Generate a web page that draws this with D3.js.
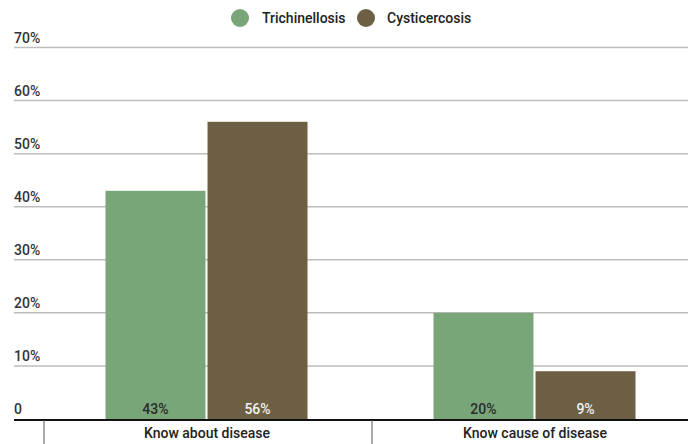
<!DOCTYPE html>
<html><head><meta charset="utf-8">
<script src="https://cdn.jsdelivr.net/npm/d3@7/dist/d3.min.js"></script>
<style>body{margin:0;background:#fff}svg{display:block;font-family:Roboto,"Noto Sans",sans-serif}</style>
</head><body>
<script>
const categories = ["Know about disease", "Know cause of disease"];
const seriesNames = ["Trichinellosis", "Cysticercosis"];
const trichinellosis = [43, 20];
const cysticercosis = [56, 9];
const yTicks = [0, 10, 20, 30, 40, 50, 60, 70];
const colors = ["#79a678", "#6c5f43"];
const labelColors = ["#2b2b2b", "#f2f2f2"];

const W = 688, H = 444;
const svg = d3.select("body").append("svg").attr("width", W).attr("height", H);

const y = d3.scaleLinear().domain([0, 70]).range([419, 47.5]);
const x0 = d3.scaleBand().domain(categories).range([44, 700]).paddingInner(0).paddingOuter(0);
const x1 = d3.scaleBand().domain(seriesNames).range([0, 202]).paddingInner(0.02);
const groupOffset = (x0.bandwidth() - 202) / 2 - 1.5;

// gridlines
svg.append("g").selectAll("line").data(yTicks.filter(d => d > 0)).join("line")
  .attr("x1", 14).attr("x2", W).attr("y1", d => y(d)).attr("y2", d => y(d))
  .attr("stroke", "#bdbdbd").attr("stroke-width", 1.5);

// y labels
svg.append("g").selectAll("text").data(yTicks).join("text")
  .attr("x", 14).attr("y", d => y(d) - 5)
  .attr("font-size", 14).attr("font-weight", 500).attr("fill", "#333")
  .text(d => d === 0 ? "0" : d + "%");

const data = [trichinellosis, cysticercosis];
const groups = svg.append("g").selectAll("g").data(categories).join("g")
  .attr("transform", d => `translate(${x0(d) + groupOffset},0)`);

groups.each(function(cat, ci) {
  const g = d3.select(this);
  seriesNames.forEach((s, si) => {
    const v = data[si][ci];
    g.append("rect").attr("x", x1(s)).attr("width", x1.bandwidth())
      .attr("y", y(v)).attr("height", y(0) - y(v)).attr("fill", colors[si]);
    g.append("text").attr("x", x1(s) + x1.bandwidth() / 2).attr("y", 414)
      .attr("text-anchor", "middle").attr("font-size", 14).attr("font-weight", 500)
      .attr("fill", labelColors[si]).text(v + "%");
  });
});

// baseline
svg.append("line").attr("x1", 14).attr("x2", W).attr("y1", 420).attr("y2", 420)
  .attr("stroke", "#111").attr("stroke-width", 2);

// category ticks
const tickXs = categories.map(c => x0(c)).concat([x0.range()[1]]);
svg.append("g").selectAll("line").data(tickXs).join("line")
  .attr("x1", d => d).attr("x2", d => d).attr("y1", 420).attr("y2", H)
  .attr("stroke", "#555").attr("stroke-width", 1);

// category labels
svg.append("g").selectAll("text").data(categories).join("text")
  .attr("x", d => x0(d) + x0.bandwidth() / 2 - 1).attr("y", 438)
  .attr("text-anchor", "middle").attr("font-size", 14).attr("font-weight", 500).attr("fill", "#222")
  .text(d => d);

// legend
const legend = [{x: 240, tx: 262}, {x: 366, tx: 387}];
seriesNames.forEach((s, i) => {
  svg.append("circle").attr("cx", legend[i].x).attr("cy", 18).attr("r", 9).attr("fill", colors[i]);
  svg.append("text").attr("x", legend[i].tx).attr("y", 23).attr("font-size", 14).attr("font-weight", 500)
    .attr("fill", "#222").text(s);
});
</script>
</body></html>
